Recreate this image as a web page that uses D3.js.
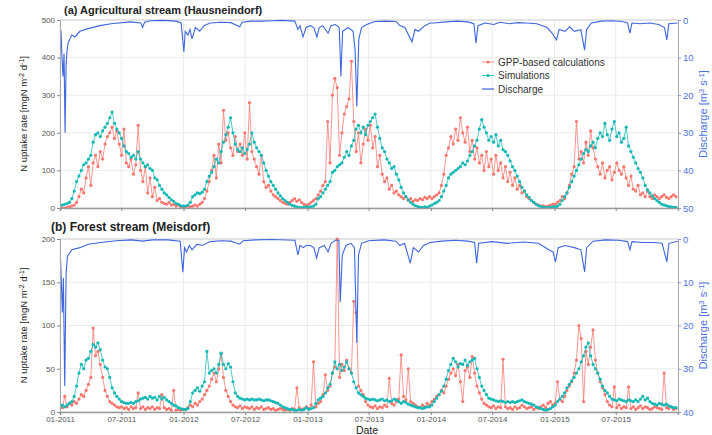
<!DOCTYPE html>
<html>
<head>
<meta charset="utf-8">
<script src="https://cdn.jsdelivr.net/npm/d3@7"></script>
<style>
  body { margin: 0; background: #fff; }
  text { font-family: "Liberation Sans", Arial, sans-serif; }
</style>
</head>
<body>
<svg width="712" height="435"></svg>
<script>
// weekly values, starting 2011-01-01 (one line per year)
const gppA = [
  0,0,0,2,3,5,8,15,30,50,40,80,110,60,120,140,110,150,130,170,190,200,215,185,205,170,140,210,120,110,130,90,115,220,100,70,110,40,80,30,55,20,25,15,12,10,15,8,10,5,8,3,2,
  2,5,3,5,8,5,10,15,25,45,70,100,140,80,170,120,260,180,200,160,140,190,150,170,140,200,130,280,150,130,110,90,140,70,55,60,45,35,30,25,20,15,12,10,15,20,25,18,22,15,10,8,
  10,15,20,25,35,45,60,70,230,120,300,345,320,140,200,250,270,290,390,230,150,200,120,170,210,180,220,160,190,110,140,90,70,80,50,60,40,45,35,30,25,30,20,25,18,22,20,25,22,28,25,30,
  25,30,35,40,60,90,140,160,190,170,210,180,240,200,175,215,150,180,130,160,120,140,100,150,110,130,90,140,100,120,80,110,70,95,60,80,50,60,40,45,30,25,20,15,10,8,5,6,4,5,8,10,
  10,15,20,30,25,40,60,90,110,230,130,150,120,175,140,205,160,130,110,90,120,80,100,110,75,95,120,100,90,110,80,60,85,50,45,60,35,40,30,45,30,25,35,30,25,30,35,28,25,30,35,30
];
const simA = [
  5,8,10,12,15,25,45,70,85,100,115,120,130,140,175,195,200,190,205,215,225,240,255,225,210,200,185,165,150,145,135,140,130,150,130,120,110,115,105,100,80,75,60,50,40,35,28,22,18,12,10,6,5,
  5,8,15,30,35,40,38,42,50,70,85,95,110,130,120,150,175,195,215,240,200,170,155,150,160,145,155,170,200,175,160,150,140,120,100,85,70,60,50,40,32,25,20,15,10,7,5,3,2,1,2,3,
  2,3,5,10,25,30,40,50,60,70,95,100,110,115,120,135,150,140,165,180,210,220,200,215,195,220,230,240,250,215,185,160,150,130,120,105,110,90,75,55,40,30,22,15,10,6,4,2,2,3,2,5,
  8,12,15,20,30,45,60,80,90,95,100,105,110,120,115,125,140,150,165,180,210,235,215,200,180,190,175,195,165,180,155,150,140,125,110,100,85,70,55,45,35,28,20,15,10,6,4,2,2,1,2,3,
  3,5,10,20,30,40,55,70,85,100,115,130,145,155,150,165,175,160,185,200,190,225,195,180,210,230,190,200,175,185,215,165,150,135,120,105,95,80,60,48,40,32,25,20,15,10,8,6,4,3,2,2
];
const gppB = [
  8,5,18,6,10,8,12,10,15,20,18,25,32,40,97,65,70,55,40,25,18,12,10,8,6,5,6,4,5,3,6,4,5,22,4,6,3,5,4,6,3,5,4,20,5,3,4,2,25,2,3,2,3,
  3,5,8,6,10,8,12,15,20,25,30,38,45,35,50,67,40,25,18,12,8,6,5,7,4,6,5,4,6,3,5,4,6,3,4,5,3,4,2,3,4,3,2,3,2,4,3,28,5,3,4,6,
  4,8,58,6,10,12,20,43,25,30,45,52,200,40,55,48,60,50,45,128,115,30,25,20,12,8,6,5,7,4,6,5,8,6,39,10,8,12,15,66,18,14,50,12,10,8,6,5,8,6,10,8,
  12,15,18,20,25,22,30,38,45,50,42,55,35,12,48,52,40,64,45,30,22,15,10,8,6,5,7,4,6,5,61,6,4,5,3,6,4,5,8,6,4,5,6,3,5,4,6,8,5,10,12,8,
  10,35,15,12,18,25,30,35,45,60,100,85,12,70,55,75,95,60,45,35,28,20,12,8,6,29,5,8,4,6,5,29,4,6,3,5,7,4,6,5,3,4,6,5,4,3,45,5,4,6,3,4
];
const simB = [
  5,8,6,8,10,12,18,30,45,55,50,60,62,70,78,75,80,72,60,52,50,40,28,22,18,15,12,11,10,10,11,10,12,13,15,16,17,15,18,16,17,14,18,15,17,14,12,10,8,7,5,4,3,
  3,4,12,22,25,28,24,30,35,70,45,48,50,45,55,68,55,50,56,52,35,22,18,16,15,14,15,14,15,14,14,15,14,13,14,14,13,12,11,10,8,6,5,4,3,3,2,2,3,2,3,5,
  3,4,5,10,14,16,18,22,28,32,45,58,50,55,48,52,58,50,45,35,28,22,20,18,16,15,14,15,14,13,14,15,13,14,12,13,15,14,12,10,12,11,9,8,7,6,5,5,4,5,6,6,
  8,12,16,20,24,30,38,48,55,62,58,52,56,55,60,54,58,60,62,50,40,30,25,20,16,15,14,13,12,13,12,11,12,11,12,11,12,13,14,12,11,10,9,8,6,5,4,3,2,3,4,6,
  8,12,15,18,22,28,32,36,40,45,50,58,65,75,80,65,55,50,45,38,30,25,22,18,15,14,13,15,14,13,12,14,13,12,14,12,15,18,14,16,12,10,9,8,10,9,8,9,7,6,5,5
];

// discharge [m3 s-1], read at turning points of the curve
const qA = [
  ["2011-01-01",2],["2011-01-04",3],["2011-01-07",10],["2011-01-10",15],["2011-01-13",9],["2011-01-16",30],
  ["2011-01-19",12],["2011-01-22",8],["2011-01-25",6],["2011-02-05",4],["2011-02-14",4.5],["2011-03-01",3],
  ["2011-03-25",2.3],["2011-04-29",1.5],["2011-06-01",1],["2011-07-27",0.5],["2011-08-28",0.8],["2011-09-02",2],
  ["2011-09-08",0.6],["2011-09-25",0.2],["2011-11-01",0.1],["2011-12-10",0.3],["2011-12-25",0.8],
  ["2012-01-02",8.5],["2012-01-06",3],["2012-01-14",4],["2012-01-20",2.5],["2012-01-26",5],["2012-02-05",2],
  ["2012-02-18",3],["2012-03-01",1.5],["2012-03-20",0.8],["2012-04-20",0.6],["2012-05-20",0.7],["2012-06-15",1.8],
  ["2012-06-22",0.6],["2012-07-20",0.3],["2012-08-20",0.3],["2012-09-20",0.2],["2012-10-20",0.1],["2012-11-25",0.3],
  ["2012-12-04",2.5],["2012-12-10",1.5],["2012-12-19",4.5],["2012-12-28",2],["2013-01-10",1.5],["2013-01-20",2],
  ["2013-01-29",4.5],["2013-02-05",2],["2013-02-15",1.5],["2013-03-03",3.5],["2013-03-12",1.5],["2013-03-25",1.2],
  ["2013-04-05",2],["2013-04-10",15],["2013-04-15",3],["2013-05-01",2],["2013-05-16",3],["2013-05-22",8],
  ["2013-05-27",23],["2013-06-02",5],["2013-06-10",2],["2013-06-25",1.2],["2013-07-20",0.4],["2013-08-20",0.3],
  ["2013-09-20",0.4],["2013-10-01",1.5],["2013-10-16",2],["2013-11-06",5.8],["2013-11-15",2.5],["2013-11-25",3],
  ["2013-12-14",1.5],["2013-12-30",0.8],["2014-01-10",0.8],["2014-02-15",0.5],["2014-03-20",0.3],["2014-04-20",0.5],
  ["2014-05-08",1],["2014-05-14",6.2],["2014-05-20",1.5],["2014-06-10",0.8],["2014-07-05",1.2],["2014-07-25",0.6],
  ["2014-08-20",1],["2014-09-15",0.7],["2014-10-10",0.8],["2014-11-10",1],["2014-12-10",2],["2014-12-25",3.5],
  ["2015-01-07",5.3],["2015-01-15",2.5],["2015-02-01",3],["2015-02-15",1.8],["2015-03-01",3],["2015-03-20",2.6],
  ["2015-03-31",8],["2015-04-06",2.5],["2015-04-20",0.8],["2015-05-20",0.3],["2015-06-20",0.2],["2015-07-20",0.4],
  ["2015-08-05",0.8],["2015-08-12",3.5],["2015-08-18",0.8],["2015-09-10",1],["2015-10-10",0.8],["2015-11-05",1.2],
  ["2015-11-22",2],["2015-11-29",5.3],["2015-12-05",1],["2015-12-31",0.8]
];
const qB = [
  ["2011-01-01",1],["2011-01-05",10],["2011-01-08",17],["2011-01-11",9],["2011-01-15",34],["2011-01-19",8],
  ["2011-01-23",4],["2011-02-05",2.5],["2011-03-01",2],["2011-03-25",1.2],["2011-05-01",0.8],["2011-06-15",0.4],
  ["2011-08-01",0.2],["2011-09-01",0.5],["2011-10-01",0.2],["2011-11-15",0.2],["2011-12-22",0.5],["2011-12-30",7.7],
  ["2012-01-04",2],["2012-01-10",3],["2012-01-18",1.5],["2012-01-26",2.5],["2012-02-10",1.2],["2012-02-25",1.5],
  ["2012-03-20",0.6],["2012-04-20",0.4],["2012-05-20",0.5],["2012-06-15",1.2],["2012-06-25",0.4],["2012-08-01",0.2],
  ["2012-09-15",0.1],["2012-11-25",0.3],["2012-12-04",3.7],["2012-12-10",1.5],["2012-12-20",2],["2012-12-28",1.5],
  ["2013-01-10",1.5],["2013-01-20",2],["2013-01-28",4.4],["2013-02-05",2],["2013-02-20",1.5],["2013-03-03",3],
  ["2013-03-12",1],["2013-03-25",0.3],["2013-04-04",0.3],["2013-04-08",14.6],["2013-04-14",3.7],["2013-04-25",1.5],
  ["2013-05-10",1],["2013-05-20",2],["2013-05-27",24],["2013-06-01",3.7],["2013-06-10",1],["2013-07-01",0.4],
  ["2013-08-15",0.2],["2013-09-20",0.5],["2013-10-01",1.5],["2013-10-15",1],["2013-11-01",5.6],["2013-11-10",2],
  ["2013-11-25",3],["2013-12-10",1.5],["2013-12-30",0.8],["2014-02-01",0.5],["2014-03-15",0.3],["2014-04-20",0.5],
  ["2014-05-10",0.8],["2014-05-16",5.6],["2014-05-22",1],["2014-07-01",0.6],["2014-08-15",1],["2014-10-01",0.7],
  ["2014-11-15",1],["2014-12-15",2.5],["2014-12-28",3],["2015-01-04",5.3],["2015-01-12",2],["2015-02-01",1.5],
  ["2015-03-01",2],["2015-03-20",2.5],["2015-03-31",7.6],["2015-04-06",2],["2015-04-25",0.5],["2015-06-01",0.2],
  ["2015-07-10",0.3],["2015-08-05",0.6],["2015-08-12",2.5],["2015-08-18",0.6],["2015-09-20",0.8],["2015-10-20",0.8],
  ["2015-11-15",1],["2015-11-29",5.3],["2015-12-05",1],["2015-12-31",0.5]
];

const ticksA = [0, 100, 200, 300, 400, 500];
const ticksB = [0, 50, 100, 150, 200];
const qTicksA = [0, 10, 20, 30, 40, 50];
const qTicksB = [0, 10, 20, 30, 40];

const colGpp = "#f8766d", colSim = "#14b8b4", colQ = "#3e66df";

const svg = d3.select("svg");
const parse = d3.timeParse("%Y-%m-%d");
const start = new Date(2011, 0, 1);
const weeks = d3.range(gppA.length).map(i => d3.timeDay.offset(start, 7 * i));

const x = d3.scaleTime().domain([start, new Date(2016, 0, 1)]).range([60, 678]);
const xTicks = d3.timeMonth.every(6).range(start, new Date(2015, 11, 1));

const panels = [
  { id: "a", title: "(a) Agricultural stream (Hausneindorf)", tx: 64, ty: 13.5, tsize: 11,
    top: 20, bottom: 208, yMax: 500, ticks: ticksA, qMax: 50, qTicks: qTicksA,
    gpp: gppA, sim: simA, q: qA, labels: false, legend: true },
  { id: "b", title: "(b) Forest stream (Meisdorf)", tx: 51, ty: 231, tsize: 12,
    top: 239, bottom: 412, yMax: 200, ticks: ticksB, qMax: 40, qTicks: qTicksB,
    gpp: gppB, sim: simB, q: qB, labels: true, legend: false }
];

function supText(sel, parts) {
  parts.forEach(([t, sup], i) => {
    const ts = sel.append("tspan").text(t);
    if (sup) ts.attr("dy", -3.5).attr("font-size", "0.72em");
    else if (i > 0) ts.attr("dy", 3.5);
  });
}

panels.forEach(p => {
  const y = d3.scaleLinear().domain([0, p.yMax]).range([p.bottom, p.top]);
  const yq = d3.scaleLinear().domain([0, p.qMax]).range([p.top, p.bottom]);
  const g = svg.append("g");

  // grid
  g.selectAll(".hg").data(p.ticks).join("line")
    .attr("x1", 60).attr("x2", 678).attr("y1", d => y(d)).attr("y2", d => y(d))
    .attr("stroke", d => d === p.yMax ? "#c8c8c8" : "#ebebeb").attr("stroke-width", 1);
  g.selectAll(".vg").data(xTicks).join("line")
    .attr("x1", d => x(d)).attr("x2", d => x(d)).attr("y1", p.top).attr("y2", p.bottom)
    .attr("stroke", "#ebebeb").attr("stroke-width", 1);

  g.append("clipPath").attr("id", "clip" + p.id).append("rect")
    .attr("x", 60).attr("y", p.top - 3).attr("width", 618).attr("height", p.bottom - p.top + 3);
  const plot = g.append("g").attr("clip-path", `url(#clip${p.id})`);

  const series = [[p.gpp, colGpp], [p.sim, colSim]];
  series.forEach(([vals, col]) => {
    const pts = vals.map((v, i) => [weeks[i], v]);
    plot.append("path").datum(pts)
      .attr("fill", "none").attr("stroke", col).attr("stroke-width", 0.9).attr("opacity", 0.85)
      .attr("d", d3.line().x(d => x(d[0])).y(d => y(d[1])));
    plot.selectAll(null).data(pts).join("circle")
      .attr("cx", d => x(d[0])).attr("cy", d => y(d[1])).attr("r", 1.6).attr("fill", col);
  });

  plot.append("path").datum(p.q)
    .attr("fill", "none").attr("stroke", colQ).attr("stroke-width", 1.1)
    .attr("d", d3.line().x(d => x(parse(d[0]))).y(d => yq(d[1])));

  // left axis
  const ya = g.append("g").attr("transform", "translate(60,0)")
    .call(d3.axisLeft(y).tickValues(p.ticks).tickSize(3).tickPadding(2));
  ya.select(".domain").attr("stroke", "#a8a8a8");
  ya.selectAll(".tick line").attr("stroke", "#888");
  ya.selectAll("text").attr("fill", "#555").attr("font-size", 8).attr("dy", "0.28em")
    .attr("font-family", "Liberation Sans, Arial");

  // right axis
  const yr = g.append("g").attr("transform", "translate(678,0)")
    .call(d3.axisRight(yq).tickValues(p.qTicks).tickSize(3).tickPadding(2));
  yr.select(".domain").attr("stroke", "#a8a8a8");
  yr.selectAll(".tick line").attr("stroke", "#7f95d8");
  yr.selectAll("text").attr("fill", "#4d72e3").attr("font-size", 9.5).attr("font-family", "Liberation Sans, Arial");

  // bottom axis
  const xa = g.append("g").attr("transform", `translate(0,${p.bottom})`)
    .call(d3.axisBottom(x).tickValues(xTicks).tickSize(3).tickPadding(1.5).tickFormat(d3.timeFormat("%m-%Y")));
  xa.select(".domain").attr("stroke", "#9a9a9a").attr("stroke-width", 1.5);
  xa.selectAll(".tick line").attr("stroke", "#888");
  xa.selectAll("text").attr("fill", "#555").attr("font-size", 8).attr("font-family", "Liberation Sans, Arial")
    .style("display", p.labels ? null : "none");

  // title
  svg.append("text").attr("x", p.tx).attr("y", p.ty).attr("font-size", p.tsize)
    .attr("font-weight", "bold").attr("fill", "#222").text(p.title);

  // axis labels
  const mid = (p.top + p.bottom) / 2;
  const ll = svg.append("text").attr("transform", `translate(27,${mid}) rotate(-90)`)
    .attr("text-anchor", "middle").attr("font-size", 9.5).attr("fill", "#222");
  supText(ll, [["N uptake rate [mgN m", false], ["-2", true], [" d", false], ["-1", true], ["]", false]]);
  const rl = svg.append("text").attr("transform", `translate(707,${mid}) rotate(-90)`)
    .attr("text-anchor", "middle").attr("font-size", 11).attr("fill", "#4d72e3");
  supText(rl, [["Discharge [m", false], ["3", true], [" s", false], ["-1", true], ["]", false]]);

  if (p.legend) {
    const items = [["GPP-based calculations", colGpp, true], ["Simulations", colSim, true], ["Discharge", colQ, false]];
    const lg = svg.append("g").attr("transform", "translate(482,62)");
    items.forEach(([name, col, dot], i) => {
      const row = lg.append("g").attr("transform", `translate(0,${i * 13.5})`);
      row.append("line").attr("x1", 0).attr("x2", 12).attr("y1", 0).attr("y2", 0)
        .attr("stroke", col).attr("stroke-width", dot ? 0.8 : 1.2);
      if (dot) row.append("circle").attr("cx", 6).attr("cy", 0).attr("r", 1.6).attr("fill", col);
      row.append("text").attr("x", 16).attr("y", 3.5).attr("font-size", 10).attr("fill", "#333").text(name);
    });
  }
});

svg.append("text").attr("x", 367).attr("y", 434).attr("text-anchor", "middle")
  .attr("font-size", 10.5).attr("fill", "#222").text("Date");
</script>
</body>
</html>
